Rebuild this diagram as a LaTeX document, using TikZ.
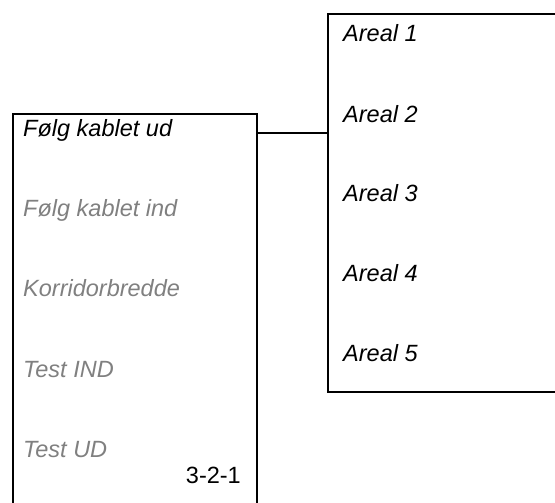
\documentclass[tikz,border=0pt]{standalone}
\usepackage{fontspec}
\setmainfont{Liberation Sans}
\definecolor{dimtext}{RGB}{128,128,128}
\begin{document}
\begin{tikzpicture}[x=1pt,y=-1pt,
  frame/.style={draw=black,line width=2pt,rectangle,inner sep=0pt,outer sep=0pt},
  item/.style={anchor=base west,inner sep=0pt,font=\fontsize{23.5}{28}\selectfont\itshape},
  active/.style={item,text=black},
  inactive/.style={item,text=dimtext},
  wire/.style={draw=black,line width=2pt}]
\useasboundingbox (0,0) rectangle (555,503);
\clip (0,0) rectangle (555,503);
% boxes (extend beyond picture edges)
\node[frame,minimum width=244pt,minimum height=410pt] (lbox) at (135,319) {};
\node[frame,minimum width=242pt,minimum height=378pt] (rbox) at (449,203) {};
% left menu
\node[active] (l1) at (23,136) {Følg kablet ud};
\node[inactive] (l2) at (23,216) {Følg kablet ind};
\node[inactive] (l3) at (23,296) {Korridorbredde};
\node[inactive] (l4) at (23,377) {Test IND};
\node[inactive] (l5) at (23,457) {Test UD};
\node[anchor=base east,inner sep=0pt,font=\fontsize{23.5}{28}\selectfont] (num) at (241,483) {3-2-1};
% right menu
\node[active] (r1) at (343,42) {Areal 1};
\node[active] (r2) at (343,122) {Areal 2};
\node[active] (r3) at (343,201) {Areal 3};
\node[active] (r4) at (343,281) {Areal 4};
\node[active] (r5) at (343,361) {Areal 5};
% connector
\coordinate (c1) at ([yshift=-19pt]lbox.north east);
\draw[wire] (c1) -- (c1 -| rbox.west);
\end{tikzpicture}
\end{document}
